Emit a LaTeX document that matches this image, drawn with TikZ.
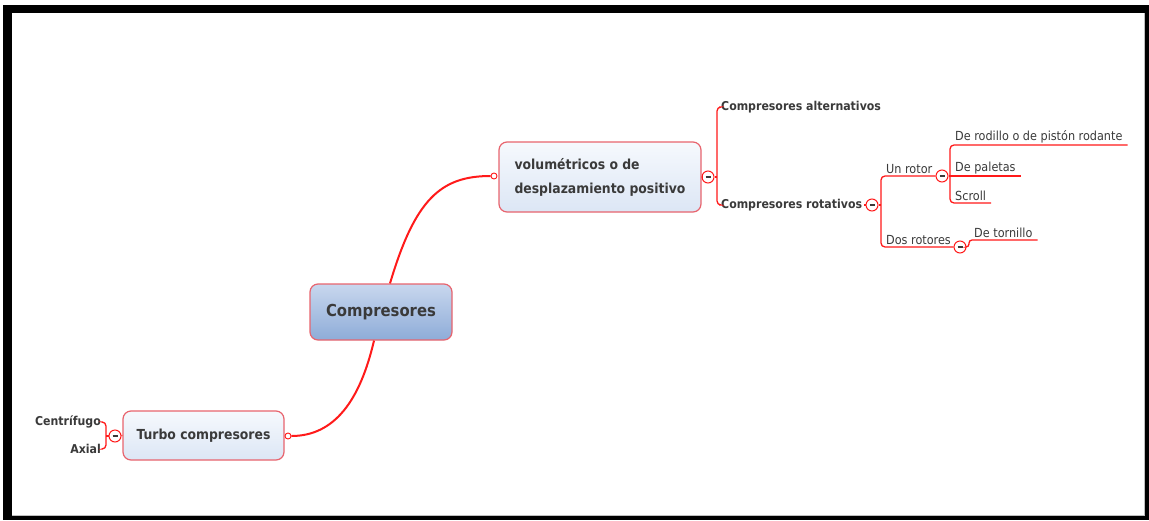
\documentclass[tikz,border=0pt]{standalone}
\usepackage{fontspec}
\setmainfont{DejaVu Sans Condensed}
\usetikzlibrary{positioning}
\definecolor{linered}{HTML}{FF1A1A}
\definecolor{boxred}{HTML}{E8646E}
\definecolor{txtgray}{HTML}{3A3A3A}
\definecolor{boxtop}{HTML}{F6F9FD}
\definecolor{boxbot}{HTML}{DCE6F5}
\definecolor{roottop}{HTML}{C8D7EE}
\definecolor{rootbot}{HTML}{8EACD8}

\begin{document}
\begin{tikzpicture}[x=1pt,y=-1pt,
    topic/.style={draw=boxred, line width=1.2pt, rounded corners=8pt, text=txtgray,
      font=\bfseries\fontsize{13.8}{24}\selectfont, top color=boxtop, bottom color=boxbot},
    root/.style={topic, top color=roottop, bottom color=rootbot,
      font=\bfseries\fontsize{16.5}{18}\selectfont},
    sub/.style={text=txtgray, font=\bfseries\fontsize{12.2}{14}\selectfont, inner xsep=2pt, inner ysep=1pt},
    leaf/.style={text=txtgray, font=\fontsize{12.5}{14}\selectfont, inner xsep=5pt, inner ysep=2pt},
    branch/.style={linered, line width=1.3pt},
    stem/.style={linered, line width=2pt},
    fold/.style={circle, draw=linered, fill=white, line width=1pt, minimum size=12pt, inner sep=0pt,
      path picture={\draw[txtgray, line width=1.2pt]
        ([xshift=-2.5pt]path picture bounding box.center) -- ([xshift=2.5pt]path picture bounding box.center);}},
    knob/.style={circle, draw=linered, fill=white, line width=0.9pt, minimum size=6pt, inner sep=0pt}]
  \useasboundingbox (0,0) rectangle (1149,520);
  % frame
  \fill[black] (3,5) rectangle (1149,520);
  \fill[white] (12,13) rectangle (1144,515);
  \draw[gray!50, line width=1pt] (12,515) -- (1144,515) -- (1144,13);

  % main topics
  \node[root, minimum width=142pt, minimum height=56pt] (comp) at (381,312) {Compresores};
  \node[topic, minimum width=202pt, minimum height=70pt, align=left] (vol) at (600,177)
    {volumétricos o de\\desplazamiento positivo};
  \node[topic, minimum width=161pt, minimum height=49pt] (turbo) at (203.5,435.5) {Turbo compresores};

  \node[knob] (kv) at (494,176) {};
  \node[knob] (kt) at (288,436) {};
  \draw[stem] ([xshift=9pt]comp.north) .. controls +(25,-84) and +(-50,0) .. (kv.west);
  \draw[stem] ([xshift=-7pt]comp.south) .. controls +(-14,60) and +(43,0) .. (kt.east);

  % volumetricos
  \node[fold] (fv) at (708,177) {};
  \draw[branch] (vol.east) -- (fv);
  \coordinate (jv) at (717,177);
  \draw[branch] (fv) -- (jv);
  \node[sub, anchor=west] (alt) at (719,107) {Compresores alternativos};
  \node[sub, anchor=west] (rot) at (719,205) {Compresores rotativos};
  \draw[branch, rounded corners=4pt] (alt.west) -| (jv) |- (rot.west);

  % rotativos
  \node[fold] (fr) at (872,205) {};
  \draw[branch] (rot.east) -- (fr);
  \coordinate (jr) at (881,205);
  \draw[branch] (fr) -- (jr);
  \node[fold] (fu) at (942,176) {};
  \node[fold] (fd) at (960,247) {};
  \draw[branch, rounded corners=4pt] (fu.west) -| (jr) |- (fd.west);
  \node[leaf, anchor=south west] (unrotor) at (881,176) {Un rotor};
  \node[leaf, anchor=south west] (dosrot) at (881,247) {Dos rotores};

  \coordinate (ju) at (950,176);
  \draw[branch] (fu) -- (ju);
  \node[leaf, anchor=south west] (rod) at (950,145) {De rodillo o de pistón rodante};
  \node[leaf, anchor=south west] (pal) at (950,176) {De paletas};
  \node[leaf, anchor=south west] (scr) at (950,203) {Scroll};
  \draw[branch, rounded corners=4pt] (rod.south east) -| (ju) |- (scr.south east);
  \draw[branch] (ju) -- (pal.south east);

  \node[leaf, anchor=south west] (tor) at (969,240) {De tornillo};
  \draw[branch, rounded corners=3pt] (fd.east) -| (tor.south west) -- (tor.south east);

  % turbo
  \node[fold] (ft) at (115,436) {};
  \draw[branch] (turbo.west) -- (ft);
  \coordinate (jt) at (106,436);
  \draw[branch] (ft) -- (jt);
  \node[sub, anchor=east] (cen) at (103,422) {Centrífugo};
  \node[sub, anchor=east] (axi) at (103,449) {Axial};
  \draw[branch, rounded corners=4pt] (cen.east) -| (jt) |- (axi.east);
\end{tikzpicture}
\end{document}
